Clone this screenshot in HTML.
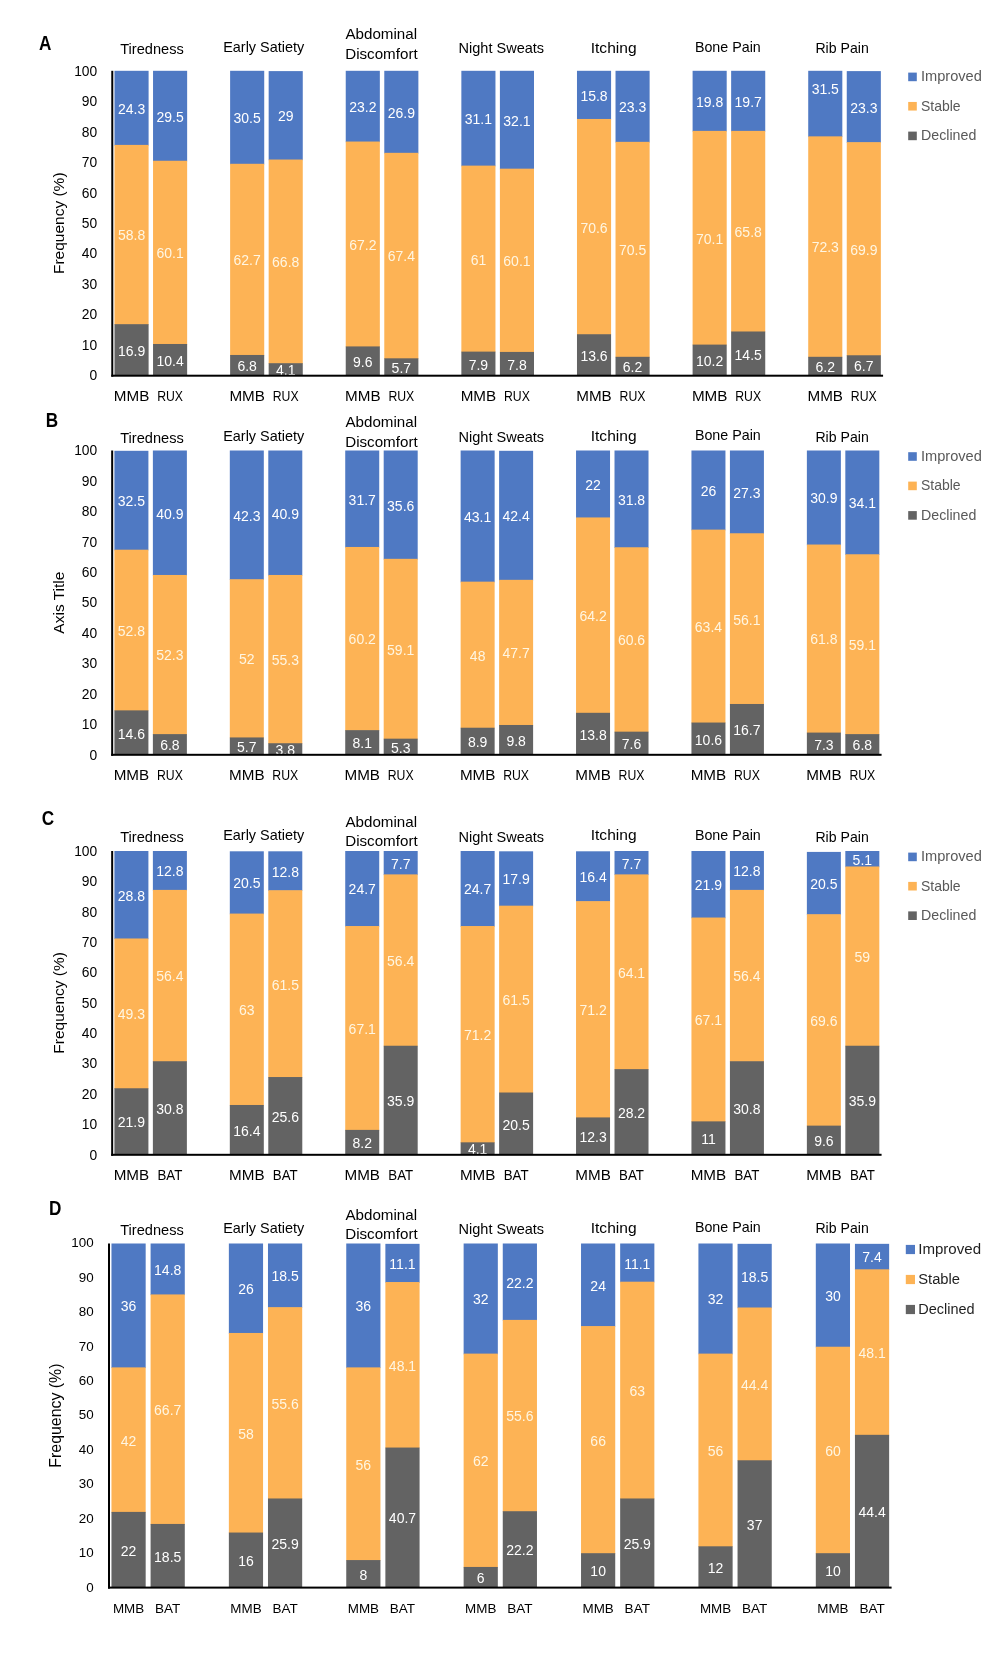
<!DOCTYPE html>
<html><head><meta charset="utf-8"><title>chart</title>
<style>
html,body{margin:0;padding:0;background:#fff;}
svg{display:block;will-change:transform;font-family:"Liberation Sans",sans-serif;}
</style></head><body>
<svg width="1000" height="1673" viewBox="0 0 1000 1673">
<rect width="1000" height="1673" fill="#fff"/>
<rect x="114.50" y="70.80" width="34.10" height="74.79" fill="#4f79c3"/>
<rect x="114.50" y="144.89" width="34.10" height="179.98" fill="#fdb355"/>
<rect x="114.50" y="324.17" width="34.10" height="51.53" fill="#636363"/>
<text transform="translate(131.55,355.85) scale(1.0000,1)" font-size="14.0" fill="#fff" text-anchor="middle" font-weight="normal">16.9</text>
<text transform="translate(131.55,240.44) scale(1.0000,1)" font-size="14.0" fill="#fff6e2" text-anchor="middle" font-weight="normal">58.8</text>
<text transform="translate(131.55,113.76) scale(1.0000,1)" font-size="14.0" fill="#fff" text-anchor="middle" font-weight="normal">24.3</text>
<text transform="translate(131.55,400.60) scale(1.0869,1)" font-size="14.0" fill="#000" text-anchor="middle" font-weight="normal">MMB</text>
<rect x="153.04" y="70.80" width="34.10" height="90.65" fill="#4f79c3"/>
<rect x="153.04" y="160.75" width="34.10" height="183.94" fill="#fdb355"/>
<rect x="153.04" y="343.99" width="34.10" height="31.71" fill="#636363"/>
<text transform="translate(170.09,365.76) scale(1.0000,1)" font-size="14.0" fill="#fff" text-anchor="middle" font-weight="normal">10.4</text>
<text transform="translate(170.09,258.28) scale(1.0000,1)" font-size="14.0" fill="#fff6e2" text-anchor="middle" font-weight="normal">60.1</text>
<text transform="translate(170.09,121.68) scale(1.0000,1)" font-size="14.0" fill="#fff" text-anchor="middle" font-weight="normal">29.5</text>
<text transform="translate(170.09,400.60) scale(0.8762,1)" font-size="14.0" fill="#000" text-anchor="middle" font-weight="normal">RUX</text>
<rect x="230.12" y="70.80" width="34.10" height="93.69" fill="#4f79c3"/>
<rect x="230.12" y="163.79" width="34.10" height="191.87" fill="#fdb355"/>
<rect x="230.12" y="354.97" width="34.10" height="20.73" fill="#636363"/>
<text transform="translate(247.17,371.25) scale(1.0000,1)" font-size="14.0" fill="#fff" text-anchor="middle" font-weight="normal">6.8</text>
<text transform="translate(247.17,265.29) scale(1.0000,1)" font-size="14.0" fill="#fff6e2" text-anchor="middle" font-weight="normal">62.7</text>
<text transform="translate(247.17,123.21) scale(1.0000,1)" font-size="14.0" fill="#fff" text-anchor="middle" font-weight="normal">30.5</text>
<text transform="translate(247.17,400.60) scale(1.0869,1)" font-size="14.0" fill="#000" text-anchor="middle" font-weight="normal">MMB</text>
<rect x="268.66" y="71.10" width="34.10" height="89.12" fill="#4f79c3"/>
<rect x="268.66" y="159.53" width="34.10" height="204.37" fill="#fdb355"/>
<rect x="268.66" y="363.20" width="34.10" height="12.50" fill="#636363"/>
<text transform="translate(285.71,375.36) scale(1.0000,1)" font-size="14.0" fill="#fff" text-anchor="middle" font-weight="normal">4.1</text>
<text transform="translate(285.71,267.27) scale(1.0000,1)" font-size="14.0" fill="#fff6e2" text-anchor="middle" font-weight="normal">66.8</text>
<text transform="translate(285.71,121.23) scale(1.0000,1)" font-size="14.0" fill="#fff" text-anchor="middle" font-weight="normal">29</text>
<text transform="translate(285.71,400.60) scale(0.8762,1)" font-size="14.0" fill="#000" text-anchor="middle" font-weight="normal">RUX</text>
<rect x="345.74" y="70.80" width="34.10" height="71.44" fill="#4f79c3"/>
<rect x="345.74" y="141.54" width="34.10" height="205.59" fill="#fdb355"/>
<rect x="345.74" y="346.43" width="34.10" height="29.27" fill="#636363"/>
<text transform="translate(362.79,366.98) scale(1.0000,1)" font-size="14.0" fill="#fff" text-anchor="middle" font-weight="normal">9.6</text>
<text transform="translate(362.79,249.90) scale(1.0000,1)" font-size="14.0" fill="#fff6e2" text-anchor="middle" font-weight="normal">67.2</text>
<text transform="translate(362.79,112.08) scale(1.0000,1)" font-size="14.0" fill="#fff" text-anchor="middle" font-weight="normal">23.2</text>
<text transform="translate(362.79,400.60) scale(1.0869,1)" font-size="14.0" fill="#000" text-anchor="middle" font-weight="normal">MMB</text>
<rect x="384.28" y="70.80" width="34.10" height="82.72" fill="#4f79c3"/>
<rect x="384.28" y="152.82" width="34.10" height="206.20" fill="#fdb355"/>
<rect x="384.28" y="358.32" width="34.10" height="17.38" fill="#636363"/>
<text transform="translate(401.33,372.92) scale(1.0000,1)" font-size="14.0" fill="#fff" text-anchor="middle" font-weight="normal">5.7</text>
<text transform="translate(401.33,261.48) scale(1.0000,1)" font-size="14.0" fill="#fff6e2" text-anchor="middle" font-weight="normal">67.4</text>
<text transform="translate(401.33,117.72) scale(1.0000,1)" font-size="14.0" fill="#fff" text-anchor="middle" font-weight="normal">26.9</text>
<text transform="translate(401.33,400.60) scale(0.8762,1)" font-size="14.0" fill="#000" text-anchor="middle" font-weight="normal">RUX</text>
<rect x="461.36" y="70.80" width="34.10" height="95.52" fill="#4f79c3"/>
<rect x="461.36" y="165.62" width="34.10" height="186.69" fill="#fdb355"/>
<rect x="461.36" y="351.61" width="34.10" height="24.09" fill="#636363"/>
<text transform="translate(478.41,369.57) scale(1.0000,1)" font-size="14.0" fill="#fff" text-anchor="middle" font-weight="normal">7.9</text>
<text transform="translate(478.41,264.53) scale(1.0000,1)" font-size="14.0" fill="#fff6e2" text-anchor="middle" font-weight="normal">61</text>
<text transform="translate(478.41,124.12) scale(1.0000,1)" font-size="14.0" fill="#fff" text-anchor="middle" font-weight="normal">31.1</text>
<text transform="translate(478.41,400.60) scale(1.0869,1)" font-size="14.0" fill="#000" text-anchor="middle" font-weight="normal">MMB</text>
<rect x="499.90" y="70.80" width="34.10" height="98.57" fill="#4f79c3"/>
<rect x="499.90" y="168.67" width="34.10" height="183.94" fill="#fdb355"/>
<rect x="499.90" y="351.92" width="34.10" height="23.78" fill="#636363"/>
<text transform="translate(516.95,369.72) scale(1.0000,1)" font-size="14.0" fill="#fff" text-anchor="middle" font-weight="normal">7.8</text>
<text transform="translate(516.95,266.21) scale(1.0000,1)" font-size="14.0" fill="#fff6e2" text-anchor="middle" font-weight="normal">60.1</text>
<text transform="translate(516.95,125.65) scale(1.0000,1)" font-size="14.0" fill="#fff" text-anchor="middle" font-weight="normal">32.1</text>
<text transform="translate(516.95,400.60) scale(0.8762,1)" font-size="14.0" fill="#000" text-anchor="middle" font-weight="normal">RUX</text>
<rect x="576.98" y="70.80" width="34.10" height="48.87" fill="#4f79c3"/>
<rect x="576.98" y="118.97" width="34.10" height="215.96" fill="#fdb355"/>
<rect x="576.98" y="334.23" width="34.10" height="41.47" fill="#636363"/>
<text transform="translate(594.03,360.88) scale(1.0000,1)" font-size="14.0" fill="#fff" text-anchor="middle" font-weight="normal">13.6</text>
<text transform="translate(594.03,232.52) scale(1.0000,1)" font-size="14.0" fill="#fff6e2" text-anchor="middle" font-weight="normal">70.6</text>
<text transform="translate(594.03,100.80) scale(1.0000,1)" font-size="14.0" fill="#fff" text-anchor="middle" font-weight="normal">15.8</text>
<text transform="translate(594.03,400.60) scale(1.0869,1)" font-size="14.0" fill="#000" text-anchor="middle" font-weight="normal">MMB</text>
<rect x="615.52" y="70.80" width="34.10" height="71.74" fill="#4f79c3"/>
<rect x="615.52" y="141.84" width="34.10" height="215.65" fill="#fdb355"/>
<rect x="615.52" y="356.80" width="34.10" height="18.90" fill="#636363"/>
<text transform="translate(632.57,372.16) scale(1.0000,1)" font-size="14.0" fill="#fff" text-anchor="middle" font-weight="normal">6.2</text>
<text transform="translate(632.57,255.23) scale(1.0000,1)" font-size="14.0" fill="#fff6e2" text-anchor="middle" font-weight="normal">70.5</text>
<text transform="translate(632.57,112.23) scale(1.0000,1)" font-size="14.0" fill="#fff" text-anchor="middle" font-weight="normal">23.3</text>
<text transform="translate(632.57,400.60) scale(0.8762,1)" font-size="14.0" fill="#000" text-anchor="middle" font-weight="normal">RUX</text>
<rect x="692.60" y="70.80" width="34.10" height="60.77" fill="#4f79c3"/>
<rect x="692.60" y="130.87" width="34.10" height="214.43" fill="#fdb355"/>
<rect x="692.60" y="344.60" width="34.10" height="31.10" fill="#636363"/>
<text transform="translate(709.65,366.06) scale(1.0000,1)" font-size="14.0" fill="#fff" text-anchor="middle" font-weight="normal">10.2</text>
<text transform="translate(709.65,243.64) scale(1.0000,1)" font-size="14.0" fill="#fff6e2" text-anchor="middle" font-weight="normal">70.1</text>
<text transform="translate(709.65,106.59) scale(1.0000,1)" font-size="14.0" fill="#fff" text-anchor="middle" font-weight="normal">19.8</text>
<text transform="translate(709.65,400.60) scale(1.0869,1)" font-size="14.0" fill="#000" text-anchor="middle" font-weight="normal">MMB</text>
<rect x="731.14" y="70.80" width="34.10" height="60.77" fill="#4f79c3"/>
<rect x="731.14" y="130.87" width="34.10" height="201.32" fill="#fdb355"/>
<rect x="731.14" y="331.49" width="34.10" height="44.21" fill="#636363"/>
<text transform="translate(748.19,359.51) scale(1.0000,1)" font-size="14.0" fill="#fff" text-anchor="middle" font-weight="normal">14.5</text>
<text transform="translate(748.19,237.09) scale(1.0000,1)" font-size="14.0" fill="#fff6e2" text-anchor="middle" font-weight="normal">65.8</text>
<text transform="translate(748.19,106.74) scale(1.0000,1)" font-size="14.0" fill="#fff" text-anchor="middle" font-weight="normal">19.7</text>
<text transform="translate(748.19,400.60) scale(0.8762,1)" font-size="14.0" fill="#000" text-anchor="middle" font-weight="normal">RUX</text>
<rect x="808.22" y="70.80" width="34.10" height="66.25" fill="#4f79c3"/>
<rect x="808.22" y="136.35" width="34.10" height="221.14" fill="#fdb355"/>
<rect x="808.22" y="356.80" width="34.10" height="18.90" fill="#636363"/>
<text transform="translate(825.27,372.16) scale(1.0000,1)" font-size="14.0" fill="#fff" text-anchor="middle" font-weight="normal">6.2</text>
<text transform="translate(825.27,252.49) scale(1.0000,1)" font-size="14.0" fill="#fff6e2" text-anchor="middle" font-weight="normal">72.3</text>
<text transform="translate(825.27,94.24) scale(1.0000,1)" font-size="14.0" fill="#fff" text-anchor="middle" font-weight="normal">31.5</text>
<text transform="translate(825.27,400.60) scale(1.0869,1)" font-size="14.0" fill="#000" text-anchor="middle" font-weight="normal">MMB</text>
<rect x="846.76" y="71.10" width="34.10" height="71.74" fill="#4f79c3"/>
<rect x="846.76" y="142.15" width="34.10" height="213.83" fill="#fdb355"/>
<rect x="846.76" y="355.27" width="34.10" height="20.43" fill="#636363"/>
<text transform="translate(863.81,371.40) scale(1.0000,1)" font-size="14.0" fill="#fff" text-anchor="middle" font-weight="normal">6.7</text>
<text transform="translate(863.81,254.62) scale(1.0000,1)" font-size="14.0" fill="#fff6e2" text-anchor="middle" font-weight="normal">69.9</text>
<text transform="translate(863.81,112.54) scale(1.0000,1)" font-size="14.0" fill="#fff" text-anchor="middle" font-weight="normal">23.3</text>
<text transform="translate(863.81,400.60) scale(0.8762,1)" font-size="14.0" fill="#000" text-anchor="middle" font-weight="normal">RUX</text>
<text transform="translate(120.20,53.60) scale(1.0288,1)" font-size="14.2" fill="#000" text-anchor="start" font-weight="normal">Tiredness</text>
<text transform="translate(223.20,51.60) scale(1.0175,1)" font-size="14.2" fill="#000" text-anchor="start" font-weight="normal">Early Satiety</text>
<text transform="translate(345.40,38.75) scale(1.0679,1)" font-size="14.2" fill="#000" text-anchor="start" font-weight="normal">Abdominal</text>
<text transform="translate(345.20,58.75) scale(1.0685,1)" font-size="14.2" fill="#000" text-anchor="start" font-weight="normal">Discomfort</text>
<text transform="translate(458.50,53.20) scale(1.0238,1)" font-size="14.2" fill="#000" text-anchor="start" font-weight="normal">Night Sweats</text>
<text transform="translate(590.70,52.50) scale(1.0971,1)" font-size="14.2" fill="#000" text-anchor="start" font-weight="normal">Itching</text>
<text transform="translate(694.90,51.75) scale(1.0057,1)" font-size="14.2" fill="#000" text-anchor="start" font-weight="normal">Bone Pain</text>
<text transform="translate(815.40,53.25) scale(0.9949,1)" font-size="14.2" fill="#000" text-anchor="start" font-weight="normal">Rib Pain</text>
<rect x="111.28" y="70.80" width="2" height="305.90" fill="#000"/>
<rect x="111.28" y="374.70" width="771.80" height="2" fill="#000"/>
<text transform="translate(97.20,380.44) scale(1.0000,1)" font-size="13.8" fill="#000" text-anchor="end" font-weight="normal">0</text>
<text transform="translate(97.20,349.95) scale(1.0000,1)" font-size="13.8" fill="#000" text-anchor="end" font-weight="normal">10</text>
<text transform="translate(97.20,319.46) scale(1.0000,1)" font-size="13.8" fill="#000" text-anchor="end" font-weight="normal">20</text>
<text transform="translate(97.20,288.97) scale(1.0000,1)" font-size="13.8" fill="#000" text-anchor="end" font-weight="normal">30</text>
<text transform="translate(97.20,258.48) scale(1.0000,1)" font-size="13.8" fill="#000" text-anchor="end" font-weight="normal">40</text>
<text transform="translate(97.20,227.99) scale(1.0000,1)" font-size="13.8" fill="#000" text-anchor="end" font-weight="normal">50</text>
<text transform="translate(97.20,197.50) scale(1.0000,1)" font-size="13.8" fill="#000" text-anchor="end" font-weight="normal">60</text>
<text transform="translate(97.20,167.01) scale(1.0000,1)" font-size="13.8" fill="#000" text-anchor="end" font-weight="normal">70</text>
<text transform="translate(97.20,136.52) scale(1.0000,1)" font-size="13.8" fill="#000" text-anchor="end" font-weight="normal">80</text>
<text transform="translate(97.20,106.03) scale(1.0000,1)" font-size="13.8" fill="#000" text-anchor="end" font-weight="normal">90</text>
<text transform="translate(97.20,75.54) scale(1.0000,1)" font-size="13.8" fill="#000" text-anchor="end" font-weight="normal">100</text>
<text transform="translate(64.40,223.25) rotate(-90)" font-size="15.5" text-anchor="middle" fill="#000">Frequency (%)</text>
<text transform="translate(39.00,50.00) scale(0.8900,1)" font-size="19.3" fill="#000" text-anchor="start" font-weight="bold">A</text>
<rect x="908.20" y="72.60" width="8.6" height="8.6" fill="#4f79c3"/>
<text transform="translate(921.00,81.20) scale(1.0288,1)" font-size="14.2" fill="#595959" text-anchor="start" font-weight="normal">Improved</text>
<rect x="908.20" y="101.95" width="8.6" height="8.6" fill="#fdb355"/>
<text transform="translate(921.00,110.55) scale(0.9848,1)" font-size="14.2" fill="#595959" text-anchor="start" font-weight="normal">Stable</text>
<rect x="908.20" y="131.60" width="8.6" height="8.6" fill="#636363"/>
<text transform="translate(921.00,140.20) scale(1.0026,1)" font-size="14.2" fill="#595959" text-anchor="start" font-weight="normal">Declined</text>
<rect x="114.41" y="450.80" width="34.00" height="99.60" fill="#4f79c3"/>
<rect x="114.41" y="549.70" width="34.00" height="161.37" fill="#fdb355"/>
<rect x="114.41" y="710.37" width="34.00" height="44.43" fill="#636363"/>
<text transform="translate(131.41,738.50) scale(1.0000,1)" font-size="14.0" fill="#fff" text-anchor="middle" font-weight="normal">14.6</text>
<text transform="translate(131.41,635.95) scale(1.0000,1)" font-size="14.0" fill="#fff6e2" text-anchor="middle" font-weight="normal">52.8</text>
<text transform="translate(131.41,506.17) scale(1.0000,1)" font-size="14.0" fill="#fff" text-anchor="middle" font-weight="normal">32.5</text>
<text transform="translate(131.41,779.80) scale(1.0869,1)" font-size="14.0" fill="#000" text-anchor="middle" font-weight="normal">MMB</text>
<rect x="152.88" y="450.50" width="34.00" height="125.16" fill="#4f79c3"/>
<rect x="152.88" y="574.96" width="34.00" height="159.85" fill="#fdb355"/>
<rect x="152.88" y="734.11" width="34.00" height="20.69" fill="#636363"/>
<text transform="translate(169.88,750.37) scale(1.0000,1)" font-size="14.0" fill="#fff" text-anchor="middle" font-weight="normal">6.8</text>
<text transform="translate(169.88,660.45) scale(1.0000,1)" font-size="14.0" fill="#fff6e2" text-anchor="middle" font-weight="normal">52.3</text>
<text transform="translate(169.88,518.64) scale(1.0000,1)" font-size="14.0" fill="#fff" text-anchor="middle" font-weight="normal">40.9</text>
<text transform="translate(169.88,779.80) scale(0.8762,1)" font-size="14.0" fill="#000" text-anchor="middle" font-weight="normal">RUX</text>
<rect x="229.81" y="450.50" width="34.00" height="129.42" fill="#4f79c3"/>
<rect x="229.81" y="579.22" width="34.00" height="158.94" fill="#fdb355"/>
<rect x="229.81" y="737.45" width="34.00" height="17.35" fill="#636363"/>
<text transform="translate(246.81,752.04) scale(1.0000,1)" font-size="14.0" fill="#fff" text-anchor="middle" font-weight="normal">5.7</text>
<text transform="translate(246.81,664.25) scale(1.0000,1)" font-size="14.0" fill="#fff6e2" text-anchor="middle" font-weight="normal">52</text>
<text transform="translate(246.81,520.77) scale(1.0000,1)" font-size="14.0" fill="#fff" text-anchor="middle" font-weight="normal">42.3</text>
<text transform="translate(246.81,779.80) scale(1.0869,1)" font-size="14.0" fill="#000" text-anchor="middle" font-weight="normal">MMB</text>
<rect x="268.29" y="450.50" width="34.00" height="125.16" fill="#4f79c3"/>
<rect x="268.29" y="574.96" width="34.00" height="168.98" fill="#fdb355"/>
<rect x="268.29" y="743.24" width="34.00" height="11.56" fill="#636363"/>
<text transform="translate(285.29,754.93) scale(1.0000,1)" font-size="14.0" fill="#fff" text-anchor="middle" font-weight="normal">3.8</text>
<text transform="translate(285.29,665.01) scale(1.0000,1)" font-size="14.0" fill="#fff6e2" text-anchor="middle" font-weight="normal">55.3</text>
<text transform="translate(285.29,518.64) scale(1.0000,1)" font-size="14.0" fill="#fff" text-anchor="middle" font-weight="normal">40.9</text>
<text transform="translate(285.29,779.80) scale(0.8762,1)" font-size="14.0" fill="#000" text-anchor="middle" font-weight="normal">RUX</text>
<rect x="345.23" y="450.50" width="34.00" height="97.16" fill="#4f79c3"/>
<rect x="345.23" y="546.96" width="34.00" height="183.89" fill="#fdb355"/>
<rect x="345.23" y="730.15" width="34.00" height="24.65" fill="#636363"/>
<text transform="translate(362.23,748.39) scale(1.0000,1)" font-size="14.0" fill="#fff" text-anchor="middle" font-weight="normal">8.1</text>
<text transform="translate(362.23,644.47) scale(1.0000,1)" font-size="14.0" fill="#fff6e2" text-anchor="middle" font-weight="normal">60.2</text>
<text transform="translate(362.23,504.64) scale(1.0000,1)" font-size="14.0" fill="#fff" text-anchor="middle" font-weight="normal">31.7</text>
<text transform="translate(362.23,779.80) scale(1.0869,1)" font-size="14.0" fill="#000" text-anchor="middle" font-weight="normal">MMB</text>
<rect x="383.69" y="450.50" width="34.00" height="109.03" fill="#4f79c3"/>
<rect x="383.69" y="558.83" width="34.00" height="180.54" fill="#fdb355"/>
<rect x="383.69" y="738.67" width="34.00" height="16.13" fill="#636363"/>
<text transform="translate(400.69,752.65) scale(1.0000,1)" font-size="14.0" fill="#fff" text-anchor="middle" font-weight="normal">5.3</text>
<text transform="translate(400.69,654.66) scale(1.0000,1)" font-size="14.0" fill="#fff6e2" text-anchor="middle" font-weight="normal">59.1</text>
<text transform="translate(400.69,510.58) scale(1.0000,1)" font-size="14.0" fill="#fff" text-anchor="middle" font-weight="normal">35.6</text>
<text transform="translate(400.69,779.80) scale(0.8762,1)" font-size="14.0" fill="#000" text-anchor="middle" font-weight="normal">RUX</text>
<rect x="460.64" y="450.50" width="34.00" height="131.85" fill="#4f79c3"/>
<rect x="460.64" y="581.65" width="34.00" height="146.76" fill="#fdb355"/>
<rect x="460.64" y="727.72" width="34.00" height="27.08" fill="#636363"/>
<text transform="translate(477.64,747.17) scale(1.0000,1)" font-size="14.0" fill="#fff" text-anchor="middle" font-weight="normal">8.9</text>
<text transform="translate(477.64,660.60) scale(1.0000,1)" font-size="14.0" fill="#fff6e2" text-anchor="middle" font-weight="normal">48</text>
<text transform="translate(477.64,521.99) scale(1.0000,1)" font-size="14.0" fill="#fff" text-anchor="middle" font-weight="normal">43.1</text>
<text transform="translate(477.64,779.80) scale(1.0869,1)" font-size="14.0" fill="#000" text-anchor="middle" font-weight="normal">MMB</text>
<rect x="499.11" y="450.80" width="34.00" height="129.72" fill="#4f79c3"/>
<rect x="499.11" y="579.83" width="34.00" height="145.85" fill="#fdb355"/>
<rect x="499.11" y="724.98" width="34.00" height="29.82" fill="#636363"/>
<text transform="translate(516.11,745.80) scale(1.0000,1)" font-size="14.0" fill="#fff" text-anchor="middle" font-weight="normal">9.8</text>
<text transform="translate(516.11,658.32) scale(1.0000,1)" font-size="14.0" fill="#fff6e2" text-anchor="middle" font-weight="normal">47.7</text>
<text transform="translate(516.11,521.23) scale(1.0000,1)" font-size="14.0" fill="#fff" text-anchor="middle" font-weight="normal">42.4</text>
<text transform="translate(516.11,779.80) scale(0.8762,1)" font-size="14.0" fill="#000" text-anchor="middle" font-weight="normal">RUX</text>
<rect x="576.04" y="450.50" width="34.00" height="67.65" fill="#4f79c3"/>
<rect x="576.04" y="517.45" width="34.00" height="196.06" fill="#fdb355"/>
<rect x="576.04" y="712.81" width="34.00" height="41.99" fill="#636363"/>
<text transform="translate(593.04,739.72) scale(1.0000,1)" font-size="14.0" fill="#fff" text-anchor="middle" font-weight="normal">13.8</text>
<text transform="translate(593.04,621.04) scale(1.0000,1)" font-size="14.0" fill="#fff6e2" text-anchor="middle" font-weight="normal">64.2</text>
<text transform="translate(593.04,489.88) scale(1.0000,1)" font-size="14.0" fill="#fff" text-anchor="middle" font-weight="normal">22</text>
<text transform="translate(593.04,779.80) scale(1.0869,1)" font-size="14.0" fill="#000" text-anchor="middle" font-weight="normal">MMB</text>
<rect x="614.51" y="450.50" width="34.00" height="97.47" fill="#4f79c3"/>
<rect x="614.51" y="547.27" width="34.00" height="185.11" fill="#fdb355"/>
<rect x="614.51" y="731.67" width="34.00" height="23.13" fill="#636363"/>
<text transform="translate(631.51,749.15) scale(1.0000,1)" font-size="14.0" fill="#fff" text-anchor="middle" font-weight="normal">7.6</text>
<text transform="translate(631.51,645.38) scale(1.0000,1)" font-size="14.0" fill="#fff6e2" text-anchor="middle" font-weight="normal">60.6</text>
<text transform="translate(631.51,504.80) scale(1.0000,1)" font-size="14.0" fill="#fff" text-anchor="middle" font-weight="normal">31.8</text>
<text transform="translate(631.51,779.80) scale(0.8762,1)" font-size="14.0" fill="#000" text-anchor="middle" font-weight="normal">RUX</text>
<rect x="691.45" y="450.50" width="34.00" height="79.82" fill="#4f79c3"/>
<rect x="691.45" y="529.62" width="34.00" height="193.63" fill="#fdb355"/>
<rect x="691.45" y="722.54" width="34.00" height="32.26" fill="#636363"/>
<text transform="translate(708.45,744.58) scale(1.0000,1)" font-size="14.0" fill="#fff" text-anchor="middle" font-weight="normal">10.6</text>
<text transform="translate(708.45,631.99) scale(1.0000,1)" font-size="14.0" fill="#fff6e2" text-anchor="middle" font-weight="normal">63.4</text>
<text transform="translate(708.45,495.97) scale(1.0000,1)" font-size="14.0" fill="#fff" text-anchor="middle" font-weight="normal">26</text>
<text transform="translate(708.45,779.80) scale(1.0869,1)" font-size="14.0" fill="#000" text-anchor="middle" font-weight="normal">MMB</text>
<rect x="729.92" y="450.50" width="34.00" height="83.47" fill="#4f79c3"/>
<rect x="729.92" y="533.27" width="34.00" height="171.41" fill="#fdb355"/>
<rect x="729.92" y="703.98" width="34.00" height="50.82" fill="#636363"/>
<text transform="translate(746.92,735.30) scale(1.0000,1)" font-size="14.0" fill="#fff" text-anchor="middle" font-weight="normal">16.7</text>
<text transform="translate(746.92,624.54) scale(1.0000,1)" font-size="14.0" fill="#fff6e2" text-anchor="middle" font-weight="normal">56.1</text>
<text transform="translate(746.92,497.64) scale(1.0000,1)" font-size="14.0" fill="#fff" text-anchor="middle" font-weight="normal">27.3</text>
<text transform="translate(746.92,779.80) scale(0.8762,1)" font-size="14.0" fill="#000" text-anchor="middle" font-weight="normal">RUX</text>
<rect x="806.87" y="450.50" width="34.00" height="94.73" fill="#4f79c3"/>
<rect x="806.87" y="544.53" width="34.00" height="188.76" fill="#fdb355"/>
<rect x="806.87" y="732.59" width="34.00" height="22.21" fill="#636363"/>
<text transform="translate(823.87,749.61) scale(1.0000,1)" font-size="14.0" fill="#fff" text-anchor="middle" font-weight="normal">7.3</text>
<text transform="translate(823.87,644.47) scale(1.0000,1)" font-size="14.0" fill="#fff6e2" text-anchor="middle" font-weight="normal">61.8</text>
<text transform="translate(823.87,503.43) scale(1.0000,1)" font-size="14.0" fill="#fff" text-anchor="middle" font-weight="normal">30.9</text>
<text transform="translate(823.87,779.80) scale(1.0869,1)" font-size="14.0" fill="#000" text-anchor="middle" font-weight="normal">MMB</text>
<rect x="845.33" y="450.50" width="34.00" height="104.47" fill="#4f79c3"/>
<rect x="845.33" y="554.27" width="34.00" height="180.54" fill="#fdb355"/>
<rect x="845.33" y="734.11" width="34.00" height="20.69" fill="#636363"/>
<text transform="translate(862.33,750.37) scale(1.0000,1)" font-size="14.0" fill="#fff" text-anchor="middle" font-weight="normal">6.8</text>
<text transform="translate(862.33,650.10) scale(1.0000,1)" font-size="14.0" fill="#fff6e2" text-anchor="middle" font-weight="normal">59.1</text>
<text transform="translate(862.33,508.30) scale(1.0000,1)" font-size="14.0" fill="#fff" text-anchor="middle" font-weight="normal">34.1</text>
<text transform="translate(862.33,779.80) scale(0.8762,1)" font-size="14.0" fill="#000" text-anchor="middle" font-weight="normal">RUX</text>
<text transform="translate(120.20,442.50) scale(1.0288,1)" font-size="14.2" fill="#000" text-anchor="start" font-weight="normal">Tiredness</text>
<text transform="translate(223.20,440.50) scale(1.0175,1)" font-size="14.2" fill="#000" text-anchor="start" font-weight="normal">Early Satiety</text>
<text transform="translate(345.40,427.40) scale(1.0679,1)" font-size="14.2" fill="#000" text-anchor="start" font-weight="normal">Abdominal</text>
<text transform="translate(345.20,446.90) scale(1.0685,1)" font-size="14.2" fill="#000" text-anchor="start" font-weight="normal">Discomfort</text>
<text transform="translate(458.50,442.10) scale(1.0238,1)" font-size="14.2" fill="#000" text-anchor="start" font-weight="normal">Night Sweats</text>
<text transform="translate(590.70,440.70) scale(1.0971,1)" font-size="14.2" fill="#000" text-anchor="start" font-weight="normal">Itching</text>
<text transform="translate(694.90,440.10) scale(1.0057,1)" font-size="14.2" fill="#000" text-anchor="start" font-weight="normal">Bone Pain</text>
<text transform="translate(815.40,441.70) scale(0.9949,1)" font-size="14.2" fill="#000" text-anchor="start" font-weight="normal">Rib Pain</text>
<rect x="111.17" y="450.50" width="2" height="305.30" fill="#000"/>
<rect x="111.17" y="753.80" width="770.40" height="2" fill="#000"/>
<text transform="translate(97.20,759.54) scale(1.0000,1)" font-size="13.8" fill="#000" text-anchor="end" font-weight="normal">0</text>
<text transform="translate(97.20,729.11) scale(1.0000,1)" font-size="13.8" fill="#000" text-anchor="end" font-weight="normal">10</text>
<text transform="translate(97.20,698.68) scale(1.0000,1)" font-size="13.8" fill="#000" text-anchor="end" font-weight="normal">20</text>
<text transform="translate(97.20,668.25) scale(1.0000,1)" font-size="13.8" fill="#000" text-anchor="end" font-weight="normal">30</text>
<text transform="translate(97.20,637.82) scale(1.0000,1)" font-size="13.8" fill="#000" text-anchor="end" font-weight="normal">40</text>
<text transform="translate(97.20,607.39) scale(1.0000,1)" font-size="13.8" fill="#000" text-anchor="end" font-weight="normal">50</text>
<text transform="translate(97.20,576.96) scale(1.0000,1)" font-size="13.8" fill="#000" text-anchor="end" font-weight="normal">60</text>
<text transform="translate(97.20,546.53) scale(1.0000,1)" font-size="13.8" fill="#000" text-anchor="end" font-weight="normal">70</text>
<text transform="translate(97.20,516.10) scale(1.0000,1)" font-size="13.8" fill="#000" text-anchor="end" font-weight="normal">80</text>
<text transform="translate(97.20,485.67) scale(1.0000,1)" font-size="13.8" fill="#000" text-anchor="end" font-weight="normal">90</text>
<text transform="translate(97.20,455.24) scale(1.0000,1)" font-size="13.8" fill="#000" text-anchor="end" font-weight="normal">100</text>
<text transform="translate(64.40,602.65) rotate(-90)" font-size="15.5" text-anchor="middle" fill="#000">Axis Title</text>
<text transform="translate(45.80,426.90) scale(0.8900,1)" font-size="19.3" fill="#000" text-anchor="start" font-weight="bold">B</text>
<rect x="908.20" y="452.20" width="8.6" height="8.6" fill="#4f79c3"/>
<text transform="translate(921.00,460.80) scale(1.0288,1)" font-size="14.2" fill="#595959" text-anchor="start" font-weight="normal">Improved</text>
<rect x="908.20" y="481.60" width="8.6" height="8.6" fill="#fdb355"/>
<text transform="translate(921.00,490.20) scale(0.9848,1)" font-size="14.2" fill="#595959" text-anchor="start" font-weight="normal">Stable</text>
<rect x="908.20" y="511.10" width="8.6" height="8.6" fill="#636363"/>
<text transform="translate(921.00,519.70) scale(1.0026,1)" font-size="14.2" fill="#595959" text-anchor="start" font-weight="normal">Declined</text>
<rect x="114.41" y="851.00" width="34.00" height="88.19" fill="#4f79c3"/>
<rect x="114.41" y="938.49" width="34.00" height="150.47" fill="#fdb355"/>
<rect x="114.41" y="1088.27" width="34.00" height="66.53" fill="#636363"/>
<text transform="translate(131.41,1127.45) scale(1.0000,1)" font-size="14.0" fill="#fff" text-anchor="middle" font-weight="normal">21.9</text>
<text transform="translate(131.41,1019.29) scale(1.0000,1)" font-size="14.0" fill="#fff6e2" text-anchor="middle" font-weight="normal">49.3</text>
<text transform="translate(131.41,900.66) scale(1.0000,1)" font-size="14.0" fill="#fff" text-anchor="middle" font-weight="normal">28.8</text>
<text transform="translate(131.41,1180.00) scale(1.0869,1)" font-size="14.0" fill="#000" text-anchor="middle" font-weight="normal">MMB</text>
<rect x="152.88" y="851.00" width="34.00" height="39.59" fill="#4f79c3"/>
<rect x="152.88" y="889.89" width="34.00" height="172.04" fill="#fdb355"/>
<rect x="152.88" y="1061.23" width="34.00" height="93.57" fill="#636363"/>
<text transform="translate(169.88,1113.93) scale(1.0000,1)" font-size="14.0" fill="#fff" text-anchor="middle" font-weight="normal">30.8</text>
<text transform="translate(169.88,981.47) scale(1.0000,1)" font-size="14.0" fill="#fff6e2" text-anchor="middle" font-weight="normal">56.4</text>
<text transform="translate(169.88,876.36) scale(1.0000,1)" font-size="14.0" fill="#fff" text-anchor="middle" font-weight="normal">12.8</text>
<text transform="translate(169.88,1180.00) scale(0.9508,1)" font-size="14.0" fill="#000" text-anchor="middle" font-weight="normal">BAT</text>
<rect x="229.81" y="851.30" width="34.00" height="62.98" fill="#4f79c3"/>
<rect x="229.81" y="913.58" width="34.00" height="192.09" fill="#fdb355"/>
<rect x="229.81" y="1104.98" width="34.00" height="49.82" fill="#636363"/>
<text transform="translate(246.81,1135.80) scale(1.0000,1)" font-size="14.0" fill="#fff" text-anchor="middle" font-weight="normal">16.4</text>
<text transform="translate(246.81,1015.19) scale(1.0000,1)" font-size="14.0" fill="#fff6e2" text-anchor="middle" font-weight="normal">63</text>
<text transform="translate(246.81,888.36) scale(1.0000,1)" font-size="14.0" fill="#fff" text-anchor="middle" font-weight="normal">20.5</text>
<text transform="translate(246.81,1180.00) scale(1.0869,1)" font-size="14.0" fill="#000" text-anchor="middle" font-weight="normal">MMB</text>
<rect x="268.29" y="851.30" width="34.00" height="39.59" fill="#4f79c3"/>
<rect x="268.29" y="890.19" width="34.00" height="187.54" fill="#fdb355"/>
<rect x="268.29" y="1077.03" width="34.00" height="77.77" fill="#636363"/>
<text transform="translate(285.29,1121.83) scale(1.0000,1)" font-size="14.0" fill="#fff" text-anchor="middle" font-weight="normal">25.6</text>
<text transform="translate(285.29,989.52) scale(1.0000,1)" font-size="14.0" fill="#fff6e2" text-anchor="middle" font-weight="normal">61.5</text>
<text transform="translate(285.29,876.66) scale(1.0000,1)" font-size="14.0" fill="#fff" text-anchor="middle" font-weight="normal">12.8</text>
<text transform="translate(285.29,1180.00) scale(0.9508,1)" font-size="14.0" fill="#000" text-anchor="middle" font-weight="normal">BAT</text>
<rect x="345.23" y="851.00" width="34.00" height="75.74" fill="#4f79c3"/>
<rect x="345.23" y="926.04" width="34.00" height="204.55" fill="#fdb355"/>
<rect x="345.23" y="1129.89" width="34.00" height="24.91" fill="#636363"/>
<text transform="translate(362.23,1148.26) scale(1.0000,1)" font-size="14.0" fill="#fff" text-anchor="middle" font-weight="normal">8.2</text>
<text transform="translate(362.23,1033.88) scale(1.0000,1)" font-size="14.0" fill="#fff6e2" text-anchor="middle" font-weight="normal">67.1</text>
<text transform="translate(362.23,894.43) scale(1.0000,1)" font-size="14.0" fill="#fff" text-anchor="middle" font-weight="normal">24.7</text>
<text transform="translate(362.23,1180.00) scale(1.0869,1)" font-size="14.0" fill="#000" text-anchor="middle" font-weight="normal">MMB</text>
<rect x="383.69" y="851.00" width="34.00" height="24.09" fill="#4f79c3"/>
<rect x="383.69" y="874.39" width="34.00" height="172.04" fill="#fdb355"/>
<rect x="383.69" y="1045.74" width="34.00" height="109.06" fill="#636363"/>
<text transform="translate(400.69,1106.18) scale(1.0000,1)" font-size="14.0" fill="#fff" text-anchor="middle" font-weight="normal">35.9</text>
<text transform="translate(400.69,965.98) scale(1.0000,1)" font-size="14.0" fill="#fff6e2" text-anchor="middle" font-weight="normal">56.4</text>
<text transform="translate(400.69,868.61) scale(1.0000,1)" font-size="14.0" fill="#fff" text-anchor="middle" font-weight="normal">7.7</text>
<text transform="translate(400.69,1180.00) scale(0.9508,1)" font-size="14.0" fill="#000" text-anchor="middle" font-weight="normal">BAT</text>
<rect x="460.64" y="851.00" width="34.00" height="75.74" fill="#4f79c3"/>
<rect x="460.64" y="926.04" width="34.00" height="217.01" fill="#fdb355"/>
<rect x="460.64" y="1142.34" width="34.00" height="12.46" fill="#636363"/>
<text transform="translate(477.64,1154.48) scale(1.0000,1)" font-size="14.0" fill="#fff" text-anchor="middle" font-weight="normal">4.1</text>
<text transform="translate(477.64,1040.10) scale(1.0000,1)" font-size="14.0" fill="#fff6e2" text-anchor="middle" font-weight="normal">71.2</text>
<text transform="translate(477.64,894.43) scale(1.0000,1)" font-size="14.0" fill="#fff" text-anchor="middle" font-weight="normal">24.7</text>
<text transform="translate(477.64,1180.00) scale(1.0869,1)" font-size="14.0" fill="#000" text-anchor="middle" font-weight="normal">MMB</text>
<rect x="499.11" y="851.30" width="34.00" height="55.08" fill="#4f79c3"/>
<rect x="499.11" y="905.68" width="34.00" height="187.54" fill="#fdb355"/>
<rect x="499.11" y="1092.52" width="34.00" height="62.28" fill="#636363"/>
<text transform="translate(516.11,1129.57) scale(1.0000,1)" font-size="14.0" fill="#fff" text-anchor="middle" font-weight="normal">20.5</text>
<text transform="translate(516.11,1005.01) scale(1.0000,1)" font-size="14.0" fill="#fff6e2" text-anchor="middle" font-weight="normal">61.5</text>
<text transform="translate(516.11,884.41) scale(1.0000,1)" font-size="14.0" fill="#fff" text-anchor="middle" font-weight="normal">17.9</text>
<text transform="translate(516.11,1180.00) scale(0.9508,1)" font-size="14.0" fill="#000" text-anchor="middle" font-weight="normal">BAT</text>
<rect x="576.04" y="851.30" width="34.00" height="50.52" fill="#4f79c3"/>
<rect x="576.04" y="901.13" width="34.00" height="217.01" fill="#fdb355"/>
<rect x="576.04" y="1117.43" width="34.00" height="37.37" fill="#636363"/>
<text transform="translate(593.04,1142.03) scale(1.0000,1)" font-size="14.0" fill="#fff" text-anchor="middle" font-weight="normal">12.3</text>
<text transform="translate(593.04,1015.19) scale(1.0000,1)" font-size="14.0" fill="#fff6e2" text-anchor="middle" font-weight="normal">71.2</text>
<text transform="translate(593.04,882.13) scale(1.0000,1)" font-size="14.0" fill="#fff" text-anchor="middle" font-weight="normal">16.4</text>
<text transform="translate(593.04,1180.00) scale(1.0869,1)" font-size="14.0" fill="#000" text-anchor="middle" font-weight="normal">MMB</text>
<rect x="614.51" y="851.00" width="34.00" height="24.09" fill="#4f79c3"/>
<rect x="614.51" y="874.39" width="34.00" height="195.44" fill="#fdb355"/>
<rect x="614.51" y="1069.13" width="34.00" height="85.67" fill="#636363"/>
<text transform="translate(631.51,1117.88) scale(1.0000,1)" font-size="14.0" fill="#fff" text-anchor="middle" font-weight="normal">28.2</text>
<text transform="translate(631.51,977.67) scale(1.0000,1)" font-size="14.0" fill="#fff6e2" text-anchor="middle" font-weight="normal">64.1</text>
<text transform="translate(631.51,868.61) scale(1.0000,1)" font-size="14.0" fill="#fff" text-anchor="middle" font-weight="normal">7.7</text>
<text transform="translate(631.51,1180.00) scale(0.9508,1)" font-size="14.0" fill="#000" text-anchor="middle" font-weight="normal">BAT</text>
<rect x="691.45" y="851.00" width="34.00" height="67.23" fill="#4f79c3"/>
<rect x="691.45" y="917.53" width="34.00" height="204.55" fill="#fdb355"/>
<rect x="691.45" y="1121.38" width="34.00" height="33.42" fill="#636363"/>
<text transform="translate(708.45,1144.00) scale(1.0000,1)" font-size="14.0" fill="#fff" text-anchor="middle" font-weight="normal">11</text>
<text transform="translate(708.45,1025.37) scale(1.0000,1)" font-size="14.0" fill="#fff6e2" text-anchor="middle" font-weight="normal">67.1</text>
<text transform="translate(708.45,890.18) scale(1.0000,1)" font-size="14.0" fill="#fff" text-anchor="middle" font-weight="normal">21.9</text>
<text transform="translate(708.45,1180.00) scale(1.0869,1)" font-size="14.0" fill="#000" text-anchor="middle" font-weight="normal">MMB</text>
<rect x="729.92" y="851.00" width="34.00" height="39.59" fill="#4f79c3"/>
<rect x="729.92" y="889.89" width="34.00" height="172.04" fill="#fdb355"/>
<rect x="729.92" y="1061.23" width="34.00" height="93.57" fill="#636363"/>
<text transform="translate(746.92,1113.93) scale(1.0000,1)" font-size="14.0" fill="#fff" text-anchor="middle" font-weight="normal">30.8</text>
<text transform="translate(746.92,981.47) scale(1.0000,1)" font-size="14.0" fill="#fff6e2" text-anchor="middle" font-weight="normal">56.4</text>
<text transform="translate(746.92,876.36) scale(1.0000,1)" font-size="14.0" fill="#fff" text-anchor="middle" font-weight="normal">12.8</text>
<text transform="translate(746.92,1180.00) scale(0.9508,1)" font-size="14.0" fill="#000" text-anchor="middle" font-weight="normal">BAT</text>
<rect x="806.87" y="851.91" width="34.00" height="62.98" fill="#4f79c3"/>
<rect x="806.87" y="914.19" width="34.00" height="212.14" fill="#fdb355"/>
<rect x="806.87" y="1125.64" width="34.00" height="29.16" fill="#636363"/>
<text transform="translate(823.87,1146.13) scale(1.0000,1)" font-size="14.0" fill="#fff" text-anchor="middle" font-weight="normal">9.6</text>
<text transform="translate(823.87,1025.82) scale(1.0000,1)" font-size="14.0" fill="#fff6e2" text-anchor="middle" font-weight="normal">69.6</text>
<text transform="translate(823.87,888.96) scale(1.0000,1)" font-size="14.0" fill="#fff" text-anchor="middle" font-weight="normal">20.5</text>
<text transform="translate(823.87,1180.00) scale(1.0869,1)" font-size="14.0" fill="#000" text-anchor="middle" font-weight="normal">MMB</text>
<rect x="845.33" y="851.00" width="34.00" height="16.19" fill="#4f79c3"/>
<rect x="845.33" y="866.49" width="34.00" height="179.94" fill="#fdb355"/>
<rect x="845.33" y="1045.74" width="34.00" height="109.06" fill="#636363"/>
<text transform="translate(862.33,1106.18) scale(1.0000,1)" font-size="14.0" fill="#fff" text-anchor="middle" font-weight="normal">35.9</text>
<text transform="translate(862.33,962.03) scale(1.0000,1)" font-size="14.0" fill="#fff6e2" text-anchor="middle" font-weight="normal">59</text>
<text transform="translate(862.33,864.66) scale(1.0000,1)" font-size="14.0" fill="#fff" text-anchor="middle" font-weight="normal">5.1</text>
<text transform="translate(862.33,1180.00) scale(0.9508,1)" font-size="14.0" fill="#000" text-anchor="middle" font-weight="normal">BAT</text>
<text transform="translate(120.20,842.00) scale(1.0288,1)" font-size="14.2" fill="#000" text-anchor="start" font-weight="normal">Tiredness</text>
<text transform="translate(223.20,840.00) scale(1.0175,1)" font-size="14.2" fill="#000" text-anchor="start" font-weight="normal">Early Satiety</text>
<text transform="translate(345.40,826.90) scale(1.0679,1)" font-size="14.2" fill="#000" text-anchor="start" font-weight="normal">Abdominal</text>
<text transform="translate(345.20,846.40) scale(1.0685,1)" font-size="14.2" fill="#000" text-anchor="start" font-weight="normal">Discomfort</text>
<text transform="translate(458.50,841.60) scale(1.0238,1)" font-size="14.2" fill="#000" text-anchor="start" font-weight="normal">Night Sweats</text>
<text transform="translate(590.70,840.20) scale(1.0971,1)" font-size="14.2" fill="#000" text-anchor="start" font-weight="normal">Itching</text>
<text transform="translate(694.90,839.60) scale(1.0057,1)" font-size="14.2" fill="#000" text-anchor="start" font-weight="normal">Bone Pain</text>
<text transform="translate(815.40,841.75) scale(0.9949,1)" font-size="14.2" fill="#000" text-anchor="start" font-weight="normal">Rib Pain</text>
<rect x="111.17" y="851.00" width="2" height="304.80" fill="#000"/>
<rect x="111.17" y="1153.80" width="770.40" height="2" fill="#000"/>
<text transform="translate(97.20,1159.54) scale(1.0000,1)" font-size="13.8" fill="#000" text-anchor="end" font-weight="normal">0</text>
<text transform="translate(97.20,1129.16) scale(1.0000,1)" font-size="13.8" fill="#000" text-anchor="end" font-weight="normal">10</text>
<text transform="translate(97.20,1098.78) scale(1.0000,1)" font-size="13.8" fill="#000" text-anchor="end" font-weight="normal">20</text>
<text transform="translate(97.20,1068.40) scale(1.0000,1)" font-size="13.8" fill="#000" text-anchor="end" font-weight="normal">30</text>
<text transform="translate(97.20,1038.02) scale(1.0000,1)" font-size="13.8" fill="#000" text-anchor="end" font-weight="normal">40</text>
<text transform="translate(97.20,1007.64) scale(1.0000,1)" font-size="13.8" fill="#000" text-anchor="end" font-weight="normal">50</text>
<text transform="translate(97.20,977.26) scale(1.0000,1)" font-size="13.8" fill="#000" text-anchor="end" font-weight="normal">60</text>
<text transform="translate(97.20,946.88) scale(1.0000,1)" font-size="13.8" fill="#000" text-anchor="end" font-weight="normal">70</text>
<text transform="translate(97.20,916.50) scale(1.0000,1)" font-size="13.8" fill="#000" text-anchor="end" font-weight="normal">80</text>
<text transform="translate(97.20,886.12) scale(1.0000,1)" font-size="13.8" fill="#000" text-anchor="end" font-weight="normal">90</text>
<text transform="translate(97.20,855.74) scale(1.0000,1)" font-size="13.8" fill="#000" text-anchor="end" font-weight="normal">100</text>
<text transform="translate(64.40,1002.90) rotate(-90)" font-size="15.5" text-anchor="middle" fill="#000">Frequency (%)</text>
<text transform="translate(41.80,824.70) scale(0.8900,1)" font-size="19.3" fill="#000" text-anchor="start" font-weight="bold">C</text>
<rect x="908.20" y="852.60" width="8.6" height="8.6" fill="#4f79c3"/>
<text transform="translate(921.00,861.20) scale(1.0288,1)" font-size="14.2" fill="#595959" text-anchor="start" font-weight="normal">Improved</text>
<rect x="908.20" y="881.90" width="8.6" height="8.6" fill="#fdb355"/>
<text transform="translate(921.00,890.50) scale(0.9848,1)" font-size="14.2" fill="#595959" text-anchor="start" font-weight="normal">Stable</text>
<rect x="908.20" y="911.40" width="8.6" height="8.6" fill="#636363"/>
<text transform="translate(921.00,920.00) scale(1.0026,1)" font-size="14.2" fill="#595959" text-anchor="start" font-weight="normal">Declined</text>
<rect x="111.47" y="1243.50" width="34.20" height="124.58" fill="#4f79c3"/>
<rect x="111.47" y="1367.38" width="34.20" height="145.22" fill="#fdb355"/>
<rect x="111.47" y="1511.90" width="34.20" height="75.70" fill="#636363"/>
<text transform="translate(128.56,1555.66) scale(1.0000,1)" font-size="14.0" fill="#fff" text-anchor="middle" font-weight="normal">22</text>
<text transform="translate(128.56,1445.55) scale(1.0000,1)" font-size="14.0" fill="#fff6e2" text-anchor="middle" font-weight="normal">42</text>
<text transform="translate(128.56,1311.35) scale(1.0000,1)" font-size="14.0" fill="#fff" text-anchor="middle" font-weight="normal">36</text>
<text transform="translate(128.56,1613.00) scale(1.0012,1)" font-size="13.4" fill="#000" text-anchor="middle" font-weight="normal">MMB</text>
<rect x="150.59" y="1243.50" width="34.20" height="51.63" fill="#4f79c3"/>
<rect x="150.59" y="1294.43" width="34.20" height="230.21" fill="#fdb355"/>
<rect x="150.59" y="1523.94" width="34.20" height="63.66" fill="#636363"/>
<text transform="translate(167.69,1561.68) scale(1.0000,1)" font-size="14.0" fill="#fff" text-anchor="middle" font-weight="normal">18.5</text>
<text transform="translate(167.69,1415.10) scale(1.0000,1)" font-size="14.0" fill="#fff6e2" text-anchor="middle" font-weight="normal">66.7</text>
<text transform="translate(167.69,1274.88) scale(1.0000,1)" font-size="14.0" fill="#fff" text-anchor="middle" font-weight="normal">14.8</text>
<text transform="translate(167.69,1613.00) scale(1.0093,1)" font-size="13.4" fill="#000" text-anchor="middle" font-weight="normal">BAT</text>
<rect x="228.86" y="1243.50" width="34.20" height="90.17" fill="#4f79c3"/>
<rect x="228.86" y="1332.97" width="34.20" height="200.28" fill="#fdb355"/>
<rect x="228.86" y="1532.54" width="34.20" height="55.06" fill="#636363"/>
<text transform="translate(245.96,1565.98) scale(1.0000,1)" font-size="14.0" fill="#fff" text-anchor="middle" font-weight="normal">16</text>
<text transform="translate(245.96,1438.67) scale(1.0000,1)" font-size="14.0" fill="#fff6e2" text-anchor="middle" font-weight="normal">58</text>
<text transform="translate(245.96,1294.14) scale(1.0000,1)" font-size="14.0" fill="#fff" text-anchor="middle" font-weight="normal">26</text>
<text transform="translate(245.96,1613.00) scale(1.0012,1)" font-size="13.4" fill="#000" text-anchor="middle" font-weight="normal">MMB</text>
<rect x="267.98" y="1243.50" width="34.20" height="64.36" fill="#4f79c3"/>
<rect x="267.98" y="1307.16" width="34.20" height="192.02" fill="#fdb355"/>
<rect x="267.98" y="1498.48" width="34.20" height="89.12" fill="#636363"/>
<text transform="translate(285.08,1548.95) scale(1.0000,1)" font-size="14.0" fill="#fff" text-anchor="middle" font-weight="normal">25.9</text>
<text transform="translate(285.08,1408.73) scale(1.0000,1)" font-size="14.0" fill="#fff6e2" text-anchor="middle" font-weight="normal">55.6</text>
<text transform="translate(285.08,1281.24) scale(1.0000,1)" font-size="14.0" fill="#fff" text-anchor="middle" font-weight="normal">18.5</text>
<text transform="translate(285.08,1613.00) scale(1.0093,1)" font-size="13.4" fill="#000" text-anchor="middle" font-weight="normal">BAT</text>
<rect x="346.25" y="1243.50" width="34.20" height="124.58" fill="#4f79c3"/>
<rect x="346.25" y="1367.38" width="34.20" height="193.40" fill="#fdb355"/>
<rect x="346.25" y="1560.07" width="34.20" height="27.53" fill="#636363"/>
<text transform="translate(363.35,1579.75) scale(1.0000,1)" font-size="14.0" fill="#fff" text-anchor="middle" font-weight="normal">8</text>
<text transform="translate(363.35,1469.64) scale(1.0000,1)" font-size="14.0" fill="#fff6e2" text-anchor="middle" font-weight="normal">56</text>
<text transform="translate(363.35,1311.35) scale(1.0000,1)" font-size="14.0" fill="#fff" text-anchor="middle" font-weight="normal">36</text>
<text transform="translate(363.35,1613.00) scale(1.0012,1)" font-size="13.4" fill="#000" text-anchor="middle" font-weight="normal">MMB</text>
<rect x="385.38" y="1243.84" width="34.20" height="38.90" fill="#4f79c3"/>
<rect x="385.38" y="1282.04" width="34.20" height="166.21" fill="#fdb355"/>
<rect x="385.38" y="1447.55" width="34.20" height="140.05" fill="#636363"/>
<text transform="translate(402.48,1523.49) scale(1.0000,1)" font-size="14.0" fill="#fff" text-anchor="middle" font-weight="normal">40.7</text>
<text transform="translate(402.48,1370.71) scale(1.0000,1)" font-size="14.0" fill="#fff6e2" text-anchor="middle" font-weight="normal">48.1</text>
<text transform="translate(402.48,1268.85) scale(1.0000,1)" font-size="14.0" fill="#fff" text-anchor="middle" font-weight="normal">11.1</text>
<text transform="translate(402.48,1613.00) scale(1.0093,1)" font-size="13.4" fill="#000" text-anchor="middle" font-weight="normal">BAT</text>
<rect x="463.63" y="1243.50" width="34.20" height="110.81" fill="#4f79c3"/>
<rect x="463.63" y="1353.61" width="34.20" height="214.04" fill="#fdb355"/>
<rect x="463.63" y="1566.95" width="34.20" height="20.65" fill="#636363"/>
<text transform="translate(480.74,1583.19) scale(1.0000,1)" font-size="14.0" fill="#fff" text-anchor="middle" font-weight="normal">6</text>
<text transform="translate(480.74,1466.19) scale(1.0000,1)" font-size="14.0" fill="#fff6e2" text-anchor="middle" font-weight="normal">62</text>
<text transform="translate(480.74,1304.47) scale(1.0000,1)" font-size="14.0" fill="#fff" text-anchor="middle" font-weight="normal">32</text>
<text transform="translate(480.74,1613.00) scale(1.0012,1)" font-size="13.4" fill="#000" text-anchor="middle" font-weight="normal">MMB</text>
<rect x="502.76" y="1243.50" width="34.20" height="77.09" fill="#4f79c3"/>
<rect x="502.76" y="1319.89" width="34.20" height="192.02" fill="#fdb355"/>
<rect x="502.76" y="1511.21" width="34.20" height="76.39" fill="#636363"/>
<text transform="translate(519.87,1555.32) scale(1.0000,1)" font-size="14.0" fill="#fff" text-anchor="middle" font-weight="normal">22.2</text>
<text transform="translate(519.87,1421.46) scale(1.0000,1)" font-size="14.0" fill="#fff6e2" text-anchor="middle" font-weight="normal">55.6</text>
<text transform="translate(519.87,1287.61) scale(1.0000,1)" font-size="14.0" fill="#fff" text-anchor="middle" font-weight="normal">22.2</text>
<text transform="translate(519.87,1613.00) scale(1.0093,1)" font-size="13.4" fill="#000" text-anchor="middle" font-weight="normal">BAT</text>
<rect x="581.03" y="1243.50" width="34.20" height="83.28" fill="#4f79c3"/>
<rect x="581.03" y="1326.08" width="34.20" height="227.81" fill="#fdb355"/>
<rect x="581.03" y="1553.19" width="34.20" height="34.41" fill="#636363"/>
<text transform="translate(598.13,1576.31) scale(1.0000,1)" font-size="14.0" fill="#fff" text-anchor="middle" font-weight="normal">10</text>
<text transform="translate(598.13,1445.55) scale(1.0000,1)" font-size="14.0" fill="#fff6e2" text-anchor="middle" font-weight="normal">66</text>
<text transform="translate(598.13,1290.70) scale(1.0000,1)" font-size="14.0" fill="#fff" text-anchor="middle" font-weight="normal">24</text>
<text transform="translate(598.13,1613.00) scale(1.0012,1)" font-size="13.4" fill="#000" text-anchor="middle" font-weight="normal">MMB</text>
<rect x="620.16" y="1243.50" width="34.20" height="38.90" fill="#4f79c3"/>
<rect x="620.16" y="1281.70" width="34.20" height="217.48" fill="#fdb355"/>
<rect x="620.16" y="1498.48" width="34.20" height="89.12" fill="#636363"/>
<text transform="translate(637.26,1548.95) scale(1.0000,1)" font-size="14.0" fill="#fff" text-anchor="middle" font-weight="normal">25.9</text>
<text transform="translate(637.26,1396.00) scale(1.0000,1)" font-size="14.0" fill="#fff6e2" text-anchor="middle" font-weight="normal">63</text>
<text transform="translate(637.26,1268.51) scale(1.0000,1)" font-size="14.0" fill="#fff" text-anchor="middle" font-weight="normal">11.1</text>
<text transform="translate(637.26,1613.00) scale(1.0093,1)" font-size="13.4" fill="#000" text-anchor="middle" font-weight="normal">BAT</text>
<rect x="698.42" y="1243.50" width="34.20" height="110.81" fill="#4f79c3"/>
<rect x="698.42" y="1353.61" width="34.20" height="193.40" fill="#fdb355"/>
<rect x="698.42" y="1546.31" width="34.20" height="41.29" fill="#636363"/>
<text transform="translate(715.52,1572.87) scale(1.0000,1)" font-size="14.0" fill="#fff" text-anchor="middle" font-weight="normal">12</text>
<text transform="translate(715.52,1455.87) scale(1.0000,1)" font-size="14.0" fill="#fff6e2" text-anchor="middle" font-weight="normal">56</text>
<text transform="translate(715.52,1304.47) scale(1.0000,1)" font-size="14.0" fill="#fff" text-anchor="middle" font-weight="normal">32</text>
<text transform="translate(715.52,1613.00) scale(1.0012,1)" font-size="13.4" fill="#000" text-anchor="middle" font-weight="normal">MMB</text>
<rect x="737.55" y="1243.84" width="34.20" height="64.36" fill="#4f79c3"/>
<rect x="737.55" y="1307.50" width="34.20" height="153.48" fill="#fdb355"/>
<rect x="737.55" y="1460.28" width="34.20" height="127.32" fill="#636363"/>
<text transform="translate(754.65,1529.85) scale(1.0000,1)" font-size="14.0" fill="#fff" text-anchor="middle" font-weight="normal">37</text>
<text transform="translate(754.65,1389.80) scale(1.0000,1)" font-size="14.0" fill="#fff6e2" text-anchor="middle" font-weight="normal">44.4</text>
<text transform="translate(754.65,1281.59) scale(1.0000,1)" font-size="14.0" fill="#fff" text-anchor="middle" font-weight="normal">18.5</text>
<text transform="translate(754.65,1613.00) scale(1.0093,1)" font-size="13.4" fill="#000" text-anchor="middle" font-weight="normal">BAT</text>
<rect x="815.81" y="1243.50" width="34.20" height="103.93" fill="#4f79c3"/>
<rect x="815.81" y="1346.73" width="34.20" height="207.16" fill="#fdb355"/>
<rect x="815.81" y="1553.19" width="34.20" height="34.41" fill="#636363"/>
<text transform="translate(832.91,1576.31) scale(1.0000,1)" font-size="14.0" fill="#fff" text-anchor="middle" font-weight="normal">10</text>
<text transform="translate(832.91,1455.87) scale(1.0000,1)" font-size="14.0" fill="#fff6e2" text-anchor="middle" font-weight="normal">60</text>
<text transform="translate(832.91,1301.03) scale(1.0000,1)" font-size="14.0" fill="#fff" text-anchor="middle" font-weight="normal">30</text>
<text transform="translate(832.91,1613.00) scale(1.0012,1)" font-size="13.4" fill="#000" text-anchor="middle" font-weight="normal">MMB</text>
<rect x="854.94" y="1243.84" width="34.20" height="26.16" fill="#4f79c3"/>
<rect x="854.94" y="1269.31" width="34.20" height="166.21" fill="#fdb355"/>
<rect x="854.94" y="1434.82" width="34.20" height="152.78" fill="#636363"/>
<text transform="translate(872.04,1517.12) scale(1.0000,1)" font-size="14.0" fill="#fff" text-anchor="middle" font-weight="normal">44.4</text>
<text transform="translate(872.04,1357.98) scale(1.0000,1)" font-size="14.0" fill="#fff6e2" text-anchor="middle" font-weight="normal">48.1</text>
<text transform="translate(872.04,1262.49) scale(1.0000,1)" font-size="14.0" fill="#fff" text-anchor="middle" font-weight="normal">7.4</text>
<text transform="translate(872.04,1613.00) scale(1.0093,1)" font-size="13.4" fill="#000" text-anchor="middle" font-weight="normal">BAT</text>
<text transform="translate(120.20,1234.75) scale(1.0288,1)" font-size="14.2" fill="#000" text-anchor="start" font-weight="normal">Tiredness</text>
<text transform="translate(223.20,1232.50) scale(1.0175,1)" font-size="14.2" fill="#000" text-anchor="start" font-weight="normal">Early Satiety</text>
<text transform="translate(345.40,1219.65) scale(1.0679,1)" font-size="14.2" fill="#000" text-anchor="start" font-weight="normal">Abdominal</text>
<text transform="translate(345.20,1239.15) scale(1.0685,1)" font-size="14.2" fill="#000" text-anchor="start" font-weight="normal">Discomfort</text>
<text transform="translate(458.50,1234.35) scale(1.0238,1)" font-size="14.2" fill="#000" text-anchor="start" font-weight="normal">Night Sweats</text>
<text transform="translate(590.70,1232.50) scale(1.0971,1)" font-size="14.2" fill="#000" text-anchor="start" font-weight="normal">Itching</text>
<text transform="translate(694.90,1232.35) scale(1.0057,1)" font-size="14.2" fill="#000" text-anchor="start" font-weight="normal">Bone Pain</text>
<text transform="translate(815.40,1233.25) scale(0.9949,1)" font-size="14.2" fill="#000" text-anchor="start" font-weight="normal">Rib Pain</text>
<rect x="108.00" y="1243.50" width="2" height="345.10" fill="#000"/>
<rect x="108.00" y="1586.60" width="783.60" height="2" fill="#000"/>
<text transform="translate(93.70,1591.50) scale(1.0000,1)" font-size="13.4" fill="#000" text-anchor="end" font-weight="normal">0</text>
<text transform="translate(93.70,1557.09) scale(1.0000,1)" font-size="13.4" fill="#000" text-anchor="end" font-weight="normal">10</text>
<text transform="translate(93.70,1522.68) scale(1.0000,1)" font-size="13.4" fill="#000" text-anchor="end" font-weight="normal">20</text>
<text transform="translate(93.70,1488.27) scale(1.0000,1)" font-size="13.4" fill="#000" text-anchor="end" font-weight="normal">30</text>
<text transform="translate(93.70,1453.86) scale(1.0000,1)" font-size="13.4" fill="#000" text-anchor="end" font-weight="normal">40</text>
<text transform="translate(93.70,1419.45) scale(1.0000,1)" font-size="13.4" fill="#000" text-anchor="end" font-weight="normal">50</text>
<text transform="translate(93.70,1385.04) scale(1.0000,1)" font-size="13.4" fill="#000" text-anchor="end" font-weight="normal">60</text>
<text transform="translate(93.70,1350.63) scale(1.0000,1)" font-size="13.4" fill="#000" text-anchor="end" font-weight="normal">70</text>
<text transform="translate(93.70,1316.22) scale(1.0000,1)" font-size="13.4" fill="#000" text-anchor="end" font-weight="normal">80</text>
<text transform="translate(93.70,1281.81) scale(1.0000,1)" font-size="13.4" fill="#000" text-anchor="end" font-weight="normal">90</text>
<text transform="translate(93.70,1247.40) scale(1.0000,1)" font-size="13.4" fill="#000" text-anchor="end" font-weight="normal">100</text>
<text transform="translate(60.80,1415.55) rotate(-90)" font-size="15.9" text-anchor="middle" fill="#000">Frequency (%)</text>
<text transform="translate(49.00,1214.80) scale(0.8900,1)" font-size="19.3" fill="#000" text-anchor="start" font-weight="bold">D</text>
<rect x="905.80" y="1244.90" width="9.2" height="9.2" fill="#4f79c3"/>
<text transform="translate(918.20,1254.10) scale(1.0406,1)" font-size="14.5" fill="#1f1f1f" text-anchor="start" font-weight="normal">Improved</text>
<rect x="905.80" y="1274.90" width="9.2" height="9.2" fill="#fdb355"/>
<text transform="translate(918.20,1284.10) scale(1.0191,1)" font-size="14.5" fill="#1f1f1f" text-anchor="start" font-weight="normal">Stable</text>
<rect x="905.80" y="1304.90" width="9.2" height="9.2" fill="#636363"/>
<text transform="translate(918.20,1314.10) scale(0.9996,1)" font-size="14.5" fill="#1f1f1f" text-anchor="start" font-weight="normal">Declined</text>
</svg>
</body></html>
